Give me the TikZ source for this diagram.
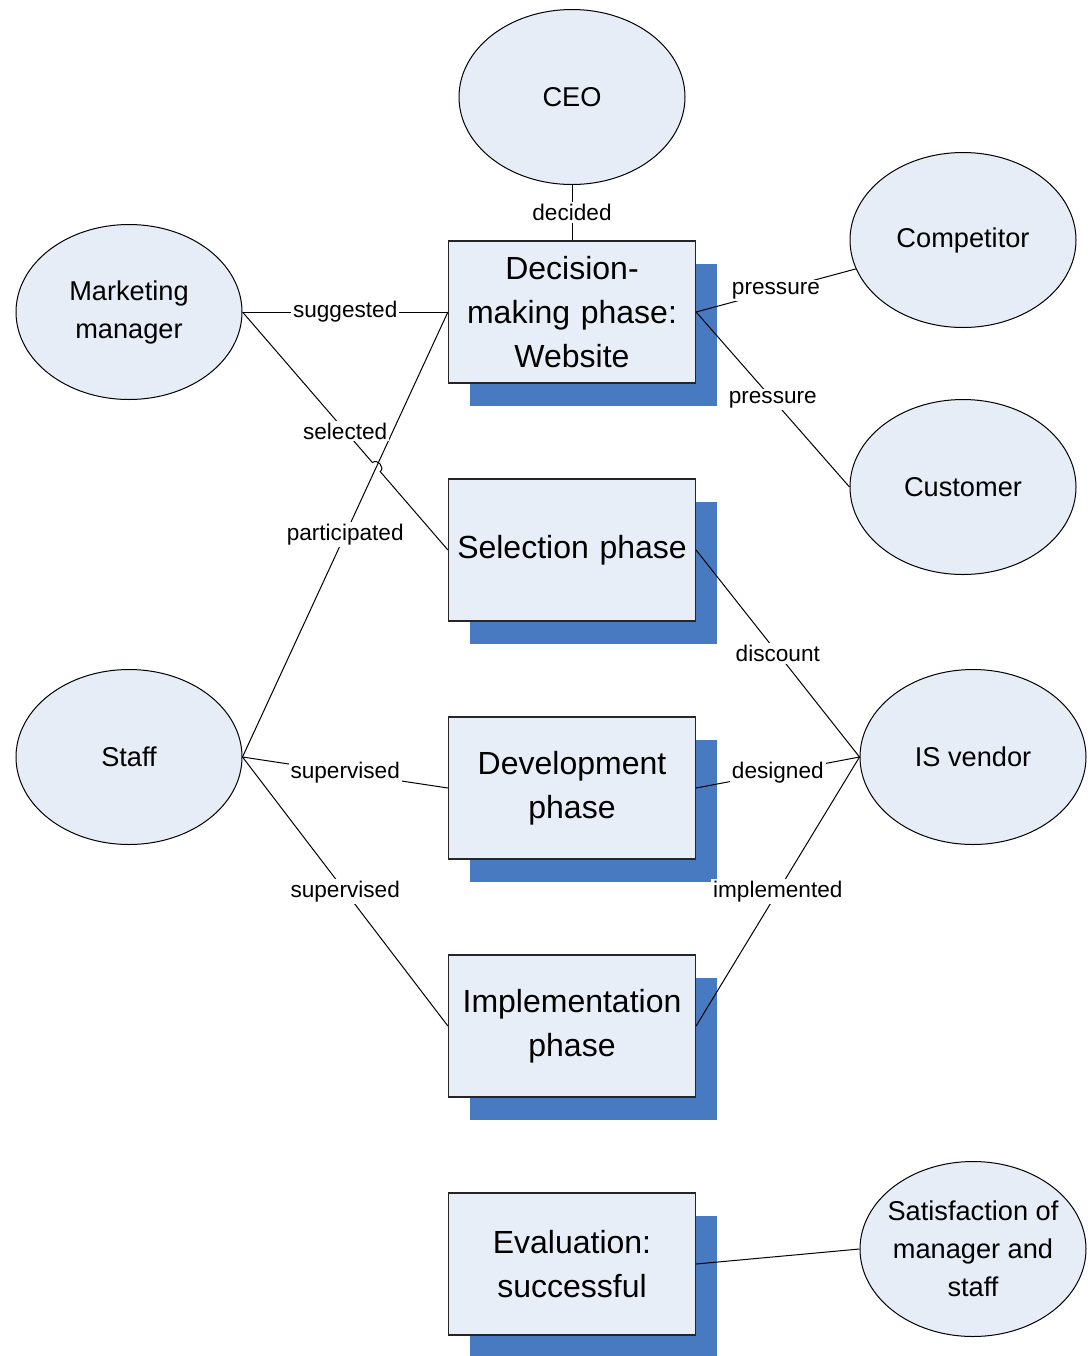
\documentclass[tikz,border=0pt]{standalone}
\usepackage{fontspec}
\setmainfont{Liberation Sans}
\usetikzlibrary{shapes.geometric, shadows, calc, intersections}
\definecolor{phasefill}{RGB}{232,238,248}
\definecolor{actorfill}{RGB}{230,237,247}
\definecolor{shadowblue}{RGB}{72,122,194}
\tikzset{
  phase/.style={draw=black!85, line width=0.6pt, fill=phasefill, minimum width=123.5pt, minimum height=71pt, inner sep=0pt, text width=118pt, align=center, font=\fontsize{16}{22}\selectfont, drop shadow={shadow xshift=10.5pt, shadow yshift=-11.5pt, opacity=1, fill=shadowblue}},
  actor/.style={ellipse, draw, line width=0.5pt, fill=actorfill, minimum width=113pt, minimum height=87.5pt, inner sep=0pt, align=center, font=\fontsize{13.6}{19}\selectfont},
  lbl/.style={fill=white, inner sep=1pt, font=\fontsize{11.3}{13}\selectfont},
  link/.style={line width=0.5pt}
}
\begin{document}
\begin{tikzpicture}[x=0.5pt, y=-0.5pt]
    \useasboundingbox (0, 0) rectangle (1092, 1356);

    \node[actor] (ceo) at (572, 97) {CEO};
    \node[actor] (mm) at (129, 312) {Marketing\\manager};
    \node[actor] (comp) at (963, 240) {Competitor};
    \node[actor] (cust) at (963, 487) {Customer};
    \node[actor] (staff) at (129, 757) {Staff};
    \node[actor] (isv) at (973, 757) {IS vendor};
    \node[actor, inner xsep=-4pt] (sat) at (973, 1249) {Satisfaction of\\manager and\\staff};

    \node[phase] (dec) at (572, 312) {Decision-\\making phase:\\Website};
    \node[phase] (sel) at (572, 550) {Selection phase};
    \node[phase] (dev) at (572, 788) {Development\\phase};
    \node[phase] (impl) at (572, 1026) {Implementation\\phase};
    \node[phase] (eval) at (572, 1264) {Evaluation:\\successful};

    \draw[link] (ceo) -- node[lbl] {decided} (dec);
    \draw[link] (mm.east) -- node[lbl] {suggested} (dec.west);
    \draw[link] (staff.east) -- node[lbl] {participated} (dec.west);

    \path[name path=selp] (mm.east) -- (sel.west);
    \path[name path=partp] (staff.east) -- (dec.west);
    \path[name intersections={of=selp and partp, by=hop}];
    \draw[link] (mm.east) -- ($(hop)!3pt!(mm.east)$) to[bend left=90, looseness=1.4] ($(hop)!3pt!(sel.west)$) -- (sel.west);
    \path (mm.east) -- node[lbl] {selected} (sel.west);

    \draw[link] (dec.east) -- node[lbl] {pressure} (comp);
    \draw[link] (dec.east) -- node[lbl] {pressure} (cust.west);
    \draw[link] (sel.east) -- node[lbl] {discount} (isv.west);
    \draw[link] (dev.east) -- node[lbl] {designed} (isv.west);
    \draw[link] (impl.east) -- node[lbl] {implemented} (isv.west);
    \draw[link] (staff.east) -- node[lbl] {supervised} (dev.west);
    \draw[link] (staff.east) -- node[lbl] {supervised} (impl.west);
    \draw[link] (eval.east) -- (sat.west);
\end{tikzpicture}
\end{document}
